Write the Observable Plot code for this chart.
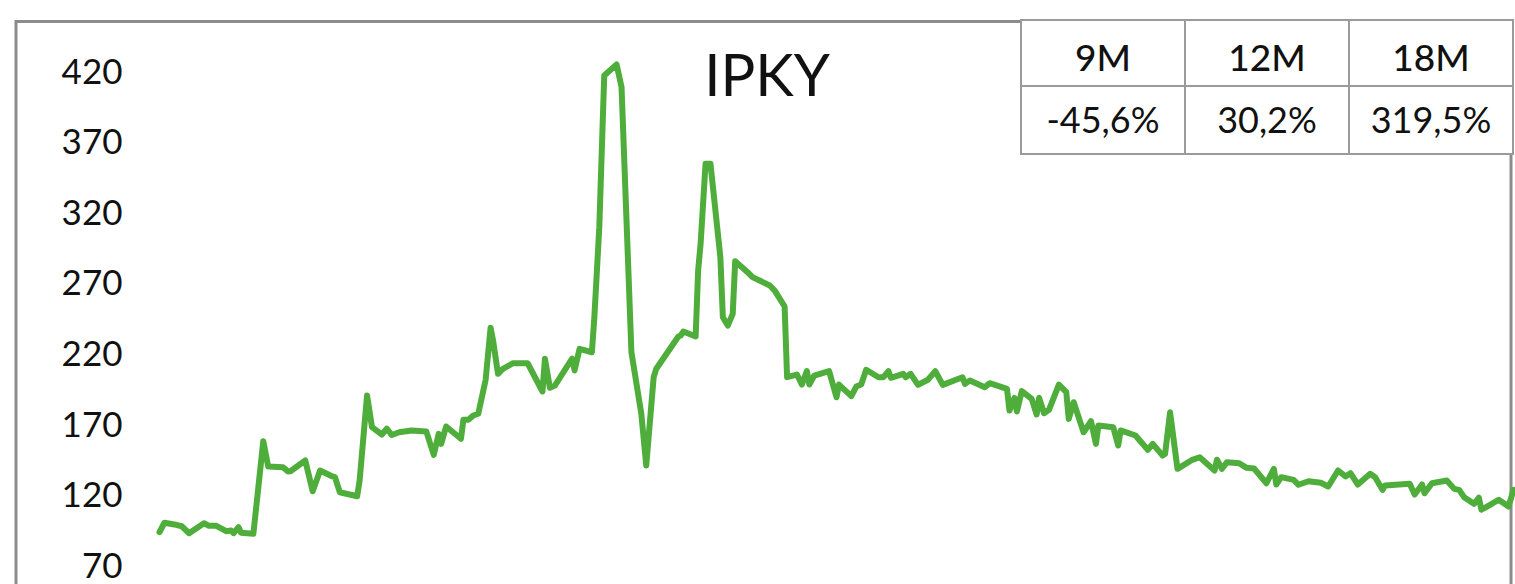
<!DOCTYPE html>
<html>
<head>
<meta charset="utf-8">
<script src="https://cdn.jsdelivr.net/npm/d3@7"></script>
<script src="https://cdn.jsdelivr.net/npm/@observablehq/plot@0.6"></script>
<style>
  html, body { margin: 0; padding: 0; background: #fff; overflow: hidden; }
  #wrap { position: relative; width: 1515px; height: 584px; overflow: hidden; font-family: Lato, "Open Sans", sans-serif; color: #111; }
  #chart { position: absolute; left: 0; top: 0; }
  #chart svg { overflow: visible; display: block; }
  #title { position: absolute; left: 617px; width: 300px; top: 45px; text-align: center; font-size: 58px; line-height: 58px; font-weight: 400; }
  #perf { position: absolute; left: 1020px; top: 19px; width: 494px; border-collapse: collapse; background: #fff; table-layout: fixed; }
  #perf td { border: 2px solid #9a9a9a; text-align: center; padding: 0; color: #111; line-height: 1; }
  #perf tr.h td { height: 66px; font-size: 37px; font-weight: 500; padding-top: 6px; box-sizing: border-box; }
  #perf tr.v td { height: 68px; font-size: 36px; font-weight: 400; padding-bottom: 2px; box-sizing: border-box; }
</style>
</head>
<body>
<div id="wrap">
  <div id="chart"></div>
  <div id="title"></div>
  <table id="perf"><tbody><tr class="h"></tr><tr class="v"></tr></tbody></table>
</div>
<script>
// ---- data ----
const title = "IPKY";
const periods = ["9M", "12M", "18M"];
const returns = ["-45,6%", "30,2%", "319,5%"];
const yTicks = [70, 120, 170, 220, 270, 320, 370, 420];

// day offset from the start of the 18-month window
const days = [0,2,6,9,12,18,20,23,27,29,30,32,33,38,42,44,50,52,53,59,62,65,70,71,73,80,81,84,86,90,92,94,97,102,108,111,113,114,116,122,123,125,127,129,132,134,135,137,139,143,149,155,156,158,160,167,168,170,175,176,178,180,185,187,191,195,197,200,201,210,211,212,217,218,219,221,223,227,228,230,232,233,238,240,247,249,253,254,258,260,262,263,265,271,274,275,280,282,284,286,291,293,295,296,301,302,304,307,311,314,317,325,326,328,334,336,343,344,346,347,349,353,355,356,358,360,364,367,368,370,374,377,379,380,386,388,389,395,400,402,406,407,409,412,418,421,427,428,430,432,437,440,443,448,451,452,454,459,461,465,470,473,477,480,482,485,490,492,495,496,506,508,511,512,515,521,524,526,528,532,534,535,538,542,546,548];
const prices = [94.3,101.0,99.8,98.5,93.6,100.7,98.8,98.8,95.0,95.5,93.6,97.8,93.9,93.2,158.8,140.8,140.4,137.3,137.5,145.1,123.3,138.0,133.8,133.3,122.6,119.8,130.9,191.1,168.7,163.5,167.6,163.2,165.1,166.4,165.6,149.1,164.0,156.9,169.2,160.5,173.9,173.9,177.0,178.2,202.3,239.1,230.1,206.5,210.1,214.0,214.0,194.0,217.2,196.6,198.2,217.2,208.9,224.2,221.8,246.6,310.4,417.9,425.7,409.6,221.8,178.2,141.6,204.1,209.9,233.0,233.7,236.5,233.0,279.7,298.6,355.3,355.3,289.1,246.6,240.7,249.0,286.3,278.5,275.0,269.1,265.5,254.2,204.1,206.0,198.9,208.4,198.9,205.3,208.4,189.9,198.9,190.7,197.5,198.9,209.4,204.1,204.1,208.4,203.7,206.5,204.1,206.5,198.7,202.3,208.4,198.7,204.1,199.4,201.8,197.0,199.9,195.9,180.5,189.4,179.8,194.3,188.8,177.7,189.5,178.6,181.0,198.9,193.5,174.6,186.4,165.1,172.9,156.9,169.9,168.7,155.7,166.4,162.8,152.7,156.9,148.6,149.8,179.3,139.2,145.6,147.4,138.0,145.6,139.2,143.9,143.2,139.9,139.4,129.0,139.2,128.1,133.3,131.4,127.9,130.4,129.3,126.7,138.0,133.8,136.1,128.1,135.7,133.3,124.3,127.4,128.6,121.0,128.1,121.9,129.0,130.9,125.0,124.3,119.1,114.4,118.7,110.2,113.2,117.3,112.5,124.3];

const series = days.map((d, i) => ({day: d, price: prices[i]}));

// ---- chart ----
const chart = Plot.plot({
  width: 1515,
  height: 620,
  marginLeft: 159,
  marginRight: 2,
  marginTop: 72,
  marginBottom: 54,
  style: {fontFamily: "Lato, 'Open Sans', sans-serif", fontSize: "35px", color: "#111", background: "transparent", overflow: "visible"},
  x: {domain: [d3.min(days), d3.max(days)], axis: null},
  y: {domain: [70, 420], ticks: yTicks, tickSize: 0, tickPadding: 37, label: null},
  marks: [
    Plot.frame({stroke: "#8c8c8c", strokeWidth: 3, insetLeft: -143.5, insetTop: -51, insetRight: 2.5, insetBottom: -120}),
    Plot.line(series, {x: "day", y: "price", stroke: "#4fae3b", strokeWidth: 6, strokeLinejoin: "round", strokeLinecap: "round"})
  ]
});
document.getElementById("chart").appendChild(chart);

document.getElementById("title").textContent = title;
const hRow = document.querySelector("#perf tr.h");
const vRow = document.querySelector("#perf tr.v");
periods.forEach(p => { const td = document.createElement("td"); td.textContent = p; hRow.appendChild(td); });
returns.forEach(r => { const td = document.createElement("td"); td.textContent = r; vRow.appendChild(td); });
</script>
</body>
</html>
